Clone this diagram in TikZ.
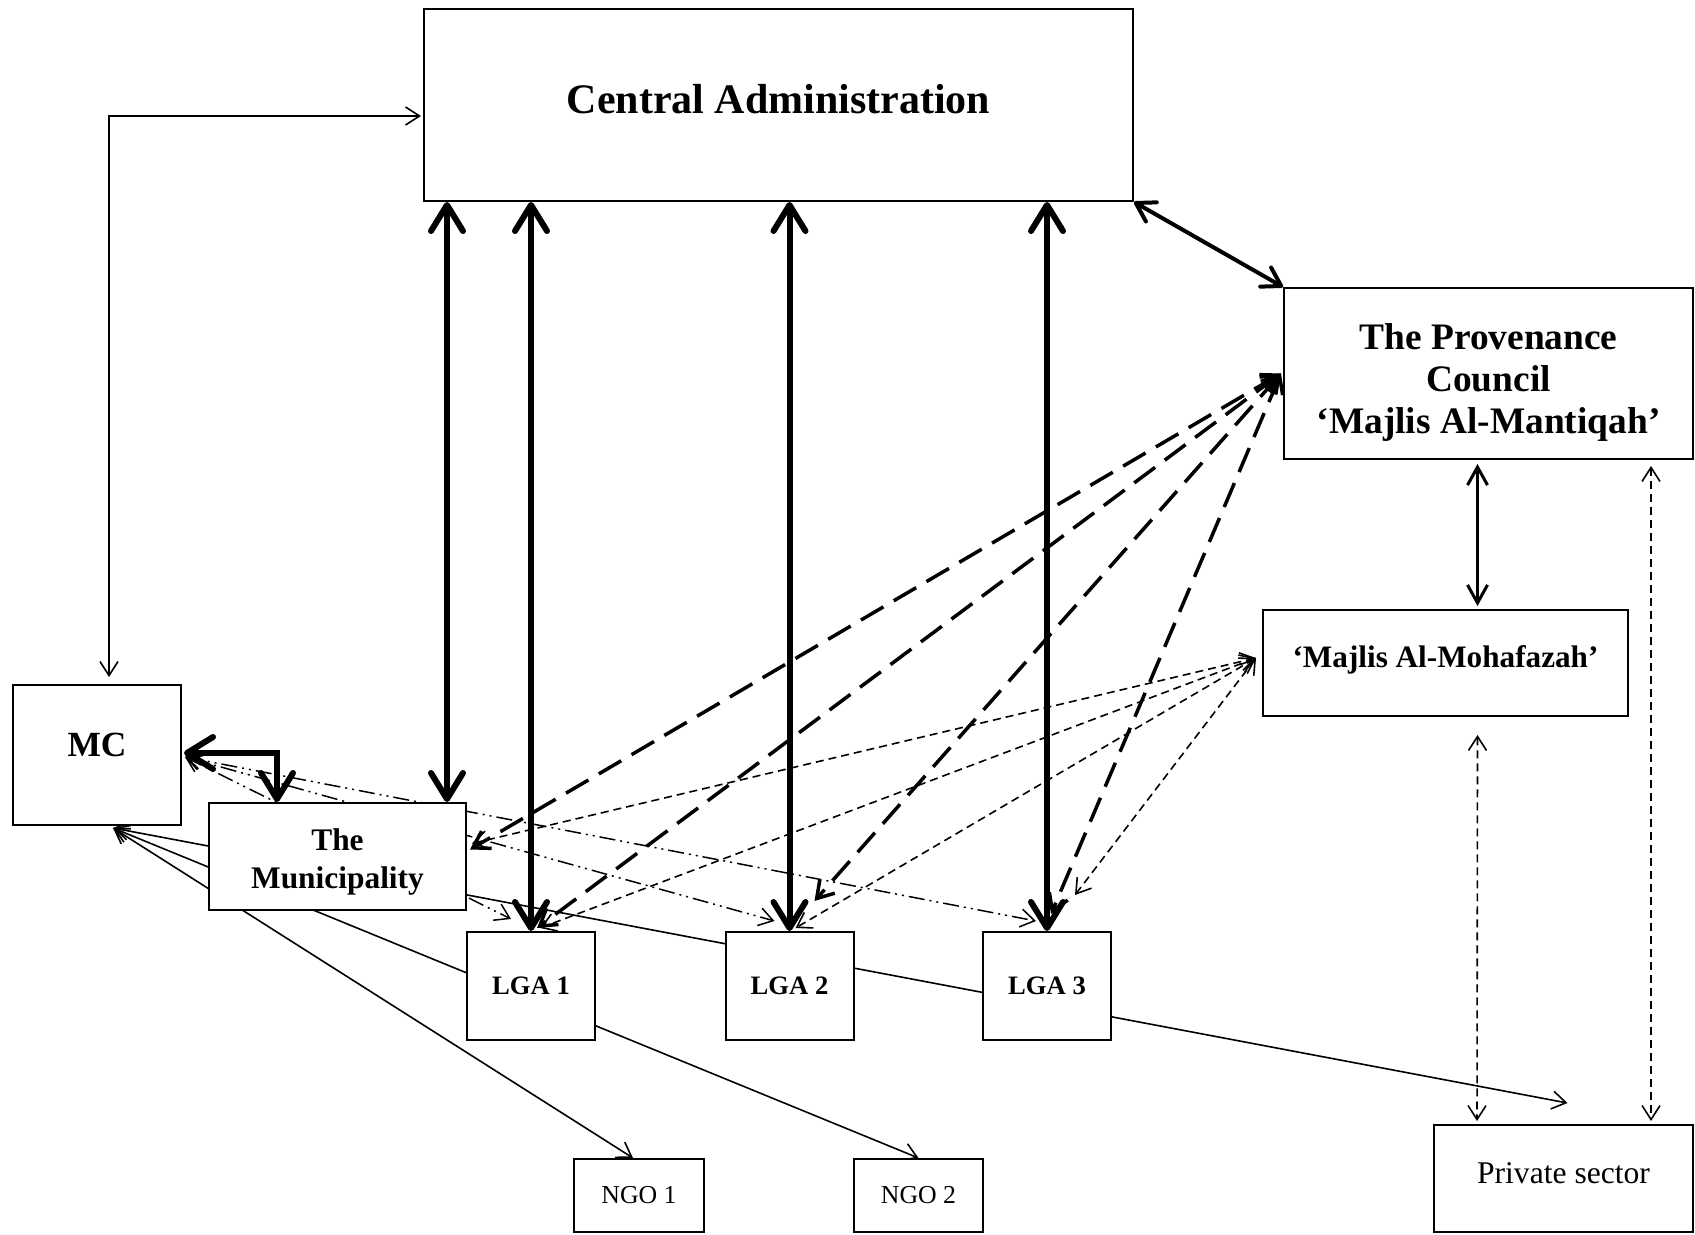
\documentclass[tikz,border=0pt]{standalone}
\usepackage{fontspec}
\setmainfont{Liberation Serif}
\usetikzlibrary{arrows.meta,calc,backgrounds}

\tikzset{
  box/.style={draw, line width=1pt, fill=white, inner sep=0pt, align=center},
  lgabox/.style={box, minimum width=64pt, minimum height=54pt, font=\fontsize{13.3}{15}\selectfont\bfseries},
  ngobox/.style={box, minimum height=36.5pt, font=\fontsize{12.9}{15}\selectfont},
  heavy/.style={line width=3pt,
    arrows={Straight Barb[length=13pt,width=16pt,round]-Straight Barb[length=13pt,width=16pt,round]}},
  medium/.style={line width=2pt,
    arrows={Straight Barb[length=9pt,width=11pt,round]-Straight Barb[length=9pt,width=11pt,round]}},
  mediumthin/.style={line width=1.5pt,
    arrows={Straight Barb[length=9pt,width=10pt]-Straight Barb[length=9pt,width=10pt]}},
  longdash/.style={line width=1.75pt, dash pattern=on 13pt off 6pt,
    arrows={Straight Barb[length=8pt,width=10pt]-Straight Barb[length=8pt,width=10pt]}},
  shortdash/.style={line width=0.8pt, dash pattern=on 4pt off 2.5pt,
    arrows={Straight Barb[length=7pt,width=9pt]-Straight Barb[length=7pt,width=9pt]}},
  dashdotdot/.style={line width=0.75pt, dash pattern=on 8pt off 2.5pt on 1pt off 2.5pt on 1pt off 2.5pt,
    arrows={Straight Barb[length=7pt,width=9pt]-Straight Barb[length=7pt,width=9pt]}},
  thinline/.style={line width=0.8pt,
    arrows={Straight Barb[length=7pt,width=9pt]-Straight Barb[length=7pt,width=9pt]}}
}

\begin{document}
\begin{tikzpicture}[x=0.5pt,y=-0.5pt]
\useasboundingbox (0,0) rectangle (1695,1235);

% ---------- boxes ----------
\node[box, minimum width=354.5pt, minimum height=96pt,
      font=\fontsize{21}{25}\selectfont\bfseries, text height=14pt, text depth=5.5pt]
      (CA) at (778.5,105) {Central Administration};
\node[box, minimum width=204.5pt, minimum height=85.5pt,
      font=\fontsize{18.7}{20.8}\selectfont\bfseries, text height=59.6pt, text depth=0pt]
      (PC) at (1488.5,373.5) {The Provenance\\Council\\‘Majlis Al-Mantiqah’};
\node[box, minimum width=182.5pt, minimum height=53pt,
      font=\fontsize{15.6}{18}\selectfont\bfseries, text height=10pt, text depth=6pt]
      (MM) at (1445.5,663) {‘Majlis Al-Mohafazah’};
\node[box, minimum width=84pt, minimum height=70pt,
      font=\fontsize{17.7}{20}\selectfont\bfseries, text height=12pt, text depth=11pt]
      (MC) at (97,755) {MC};
\node[box, minimum width=128.5pt, minimum height=53.5pt,
      font=\fontsize{15.7}{18.9}\selectfont\bfseries, text height=31.5pt, text depth=0pt]
      (MU) at (337.5,856.5) {The\\Municipality};
\node[lgabox] (L1) at (531,986) {LGA 1};
\node[lgabox] (L2) at (789.5,986) {LGA 2};
\node[lgabox] (L3) at (1047,986) {LGA 3};
\node[ngobox, minimum width=65pt] (N1) at (639,1195.5) {NGO 1};
\node[ngobox, minimum width=64.5pt] (N2) at (918.5,1195.5) {NGO 2};
\node[box, minimum width=129.5pt, minimum height=53.5pt,
      font=\fontsize{15.8}{18}\selectfont, text height=10.5pt, text depth=5.5pt]
      (PR) at (1563.5,1178.5) {Private sector};

% ---------- connectors (behind the boxes) ----------
\begin{pgfonlayer}{background}
\fill[white] (0,0) rectangle (1695,1235);

% MC <-> Central Administration
\draw[thinline] ($(MC.north)+(12,-7)$) |- ($(CA.west)+(-2,11)$);

% Central Administration <-> Municipality and the LGAs
\coordinate (mtop) at ($(MU.north east)+(-20,0)$);
\draw[heavy] (mtop |- CA.south) -- (mtop);
\draw[heavy] (L1.north |- CA.south) -- (L1.north);
\draw[heavy] (L2.north |- CA.south) -- (L2.north);
\draw[heavy] (L3.north |- CA.south) -- (L3.north);

% Central Administration <-> Provenance Council
\draw[medium] (CA.south east) -- (PC.north west);

% Provenance Council <-> Majlis Al-Mohafazah
\draw[mediumthin] ($(PC.south)+(-11,4)$) -- ($(MM.north)+(32,-3)$);

% links to the private sector
\draw[shortdash] ($(PC.south east)+(-43,6)$) -- ($(PR.north east)+(-43,-3)$);
\draw[shortdash] ($(MM.south)+(32,18)$) -- ($(PR.north west)+(44,-3)$);

% Provenance Council <-> Municipality and LGAs
\coordinate (pcw) at ($(PC.west)+(-2,0)$);
\draw[longdash] (pcw) -- ($(MU.east)+(3,-7)$);
\draw[longdash] (pcw) -- ($(L1.north)+(6,-3)$);
\draw[longdash] (pcw) -- ($(L2.north)+(25,-30)$);
\draw[longdash] (pcw) -- ($(L3.north)+(4,-17)$);

% Majlis Al-Mohafazah <-> Municipality and LGAs
\coordinate (mmw) at ($(MM.west)+(-6,-5)$);
\draw[shortdash] (mmw) -- ($(MU.east)+(5,-13)$);
\draw[shortdash] (mmw) -- ($(L1.north)+(9,-3)$);
\draw[shortdash] (mmw) -- ($(L2.north)+(6,-3)$);
\draw[shortdash] (mmw) -- ($(L3.north)+(28,-36)$);

% MC <-> LGAs
\coordinate (mce) at ($(MC.east)+(3,2)$);
\draw[dashdotdot] (mce) -- ($(L1.north west)+(45,-12)$);
\draw[dashdotdot] (mce) -- ($(L2.north west)+(50,-10)$);
\draw[dashdotdot] (mce) -- ($(L3.north west)+(54,-10)$);

% MC <-> Municipality
\draw[heavy] ($(MC.east)+(2,-2)$) -| ($(MU.north west)+(69,0)$);

% MC <-> NGOs and private sector
\coordinate (mcs) at ($(MC.south)+(16,2)$);
\draw[thinline] (mcs) -- ($(N1.north)+(-6,0)$);
\draw[thinline] (mcs) -- (N2.north);
\draw[thinline] (mcs) -- ($(PR.north)+(4,-21)$);
\end{pgfonlayer}
\end{tikzpicture}
\end{document}
